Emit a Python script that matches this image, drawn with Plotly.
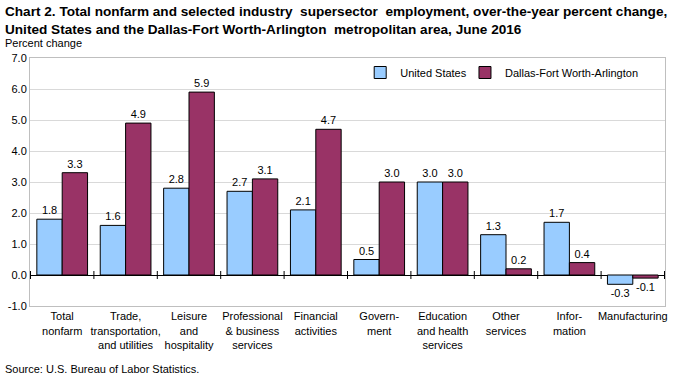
import plotly.graph_objects as go

categories = ["Total<br>nonfarm", "Trade,<br>transportation,<br>and utilities", "Leisure<br>and<br>hospitality",
              "Professional<br>& business<br>services", "Financial<br>activities", "Govern-<br>ment",
              "Education<br>and health<br>services", "Other<br>services", "Infor-<br>mation", "Manufacturing"]
us_values = [1.8, 1.6, 2.8, 2.7, 2.1, 0.5, 3.0, 1.3, 1.7, -0.3]
dfw_values = [3.3, 4.9, 5.9, 3.1, 4.7, 3.0, 3.0, 0.2, 0.4, -0.1]
y_ticks = [-1, 0, 1, 2, 3, 4, 5, 6, 7]

FONT2 = "Liberation Sans, Arial, sans-serif"

fig = go.Figure()
fig.add_trace(go.Bar(x=categories, y=us_values, name="United States", legend="legend",
                     marker=dict(color="#99CCFF", line=dict(color="black", width=1)),
                     text=[f"{v:.1f}" for v in us_values], textposition="outside",
                     textfont=dict(size=11, color="black", family=FONT2), cliponaxis=False))
fig.add_trace(go.Bar(x=categories, y=dfw_values, name="Dallas-Fort Worth-Arlington", legend="legend2",
                     marker=dict(color="#993366", line=dict(color="black", width=1)),
                     text=[f"{v:.1f}" for v in dfw_values], textposition="outside",
                     textfont=dict(size=11, color="black", family=FONT2), cliponaxis=False))

for i in range(len(categories) + 1):
    fig.add_shape(type="line", xref="x", yref="y", x0=i - 0.5, x1=i - 0.5,
                  ysizemode="pixel", yanchor=0, y0=-4, y1=4,
                  line=dict(color="black", width=1))

leg_common = dict(orientation="h", xanchor="left", y=1.0, yanchor="top",
                  font=dict(size=11, family=FONT2), bgcolor="rgba(0,0,0,0)", itemwidth=30)
fig.update_layout(
    width=673, height=375,
    margin=dict(l=30, r=5, t=58, b=69),
    paper_bgcolor="white", plot_bgcolor="white",
    barmode="group", bargap=0.2, bargroupgap=0,
    font=dict(family=FONT2, size=11, color="black"),
    legend=dict(x=0.52, **leg_common),
    legend2=dict(x=0.685, **leg_common),
    showlegend=True,
)
fig.update_xaxes(showgrid=False, showline=True, linecolor="#BFBFBF", mirror=True, tickangle=0,
                 ticks="", tickfont=dict(size=11, family=FONT2), zeroline=False)
fig.update_yaxes(range=[-1, 7], tickvals=y_ticks, ticktext=[f"{v:.1f}" for v in y_ticks],
                 showgrid=True, gridcolor="#D9D9D9", gridwidth=1,
                 showline=True, linecolor="#BFBFBF", mirror=True,
                 zeroline=True, zerolinecolor="black", zerolinewidth=1,
                 tickfont=dict(size=11, family=FONT2), ticks="")

fig.add_annotation(text="<b>Chart 2. Total nonfarm and selected industry  supersector  employment, over-the-year percent change,<br>United States and the Dallas-Fort Worth-Arlington  metropolitan area, June 2016</b>",
                   xref="paper", yref="paper", x=-0.042, y=1.225, xanchor="left", yanchor="top",
                   align="left", showarrow=False, font=dict(size=13.6, family=FONT2, color="black"))
fig.add_annotation(text="Percent change", xref="paper", yref="paper", x=-0.043, y=1.03,
                   xanchor="left", yanchor="bottom", showarrow=False, font=dict(size=11, family=FONT2))
fig.add_annotation(text="Source: U.S. Bureau of Labor Statistics.", xref="paper", yref="paper",
                   x=-0.043, y=-0.22, xanchor="left", yanchor="top", showarrow=False,
                   font=dict(size=11, family=FONT2))

fig.write_html("out.html", config={"displayModeBar": False},
               post_script="document.body.style.margin='0';document.body.style.overflow='hidden';")
